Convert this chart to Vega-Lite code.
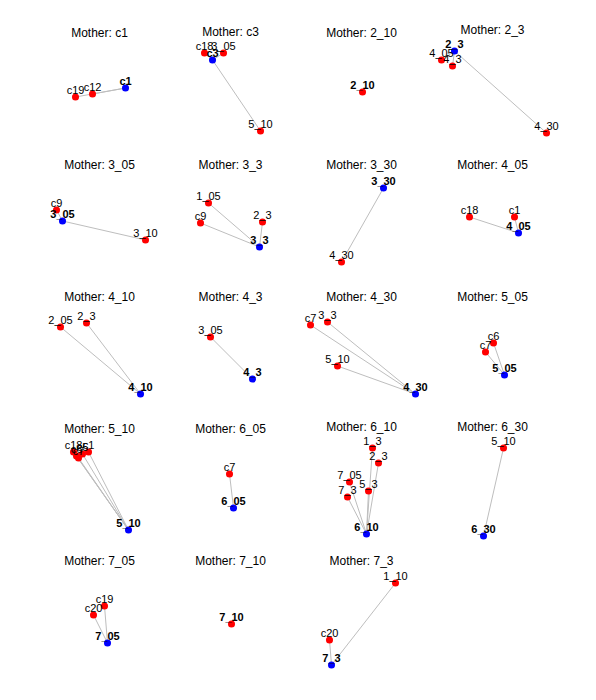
{
  "$schema": "https://vega.github.io/schema/vega-lite/v6.json",
  "padding": {"left": 44, "top": 24, "right": 0, "bottom": 0},
  "background": "white",
  "bounds": "flush",
  "data": {
    "values": [
      {"panel": "c1", "name": "c19", "role": "child", "x": -24, "y": 63},
      {"panel": "c1", "name": "c12", "role": "child", "x": -7, "y": 60},
      {"panel": "c1", "name": "c1", "role": "mother", "x": 26, "y": 54},
      {"panel": "c3", "name": "c18", "role": "child", "x": -26, "y": 19},
      {"panel": "c3", "name": "3_05", "role": "child", "x": -7, "y": 19},
      {"panel": "c3", "name": "5_10", "role": "child", "x": 30, "y": 97},
      {"panel": "c3", "name": "c3", "role": "mother", "x": -18, "y": 26},
      {"panel": "2_10", "name": "2_10", "role": "alone", "x": 1, "y": 58},
      {"panel": "2_3", "name": "4_05", "role": "child", "x": -51, "y": 26},
      {"panel": "2_3", "name": "4_3", "role": "child", "x": -40, "y": 32},
      {"panel": "2_3", "name": "4_30", "role": "child", "x": 54, "y": 99},
      {"panel": "2_3", "name": "2_3", "role": "mother", "x": -38, "y": 17},
      {"panel": "3_05", "name": "c9", "role": "child", "x": -43, "y": 44},
      {"panel": "3_05", "name": "3_10", "role": "child", "x": 46, "y": 74},
      {"panel": "3_05", "name": "3_05", "role": "mother", "x": -37, "y": 55},
      {"panel": "3_3", "name": "1_05", "role": "child", "x": -22, "y": 37},
      {"panel": "3_3", "name": "c9", "role": "child", "x": -30, "y": 57},
      {"panel": "3_3", "name": "2_3", "role": "child", "x": 32, "y": 56},
      {"panel": "3_3", "name": "3_3", "role": "mother", "x": 29, "y": 81},
      {"panel": "3_30", "name": "4_30", "role": "child", "x": -20, "y": 96},
      {"panel": "3_30", "name": "3_30", "role": "mother", "x": 22, "y": 22},
      {"panel": "4_05", "name": "c18", "role": "child", "x": -23, "y": 51},
      {"panel": "4_05", "name": "c1", "role": "child", "x": 22, "y": 51},
      {"panel": "4_05", "name": "4_05", "role": "mother", "x": 26, "y": 67},
      {"panel": "4_10", "name": "2_05", "role": "child", "x": -39, "y": 29},
      {"panel": "4_10", "name": "2_3", "role": "child", "x": -13, "y": 25},
      {"panel": "4_10", "name": "4_10", "role": "mother", "x": 41, "y": 96},
      {"panel": "4_3", "name": "3_05", "role": "child", "x": -20, "y": 39},
      {"panel": "4_3", "name": "4_3", "role": "mother", "x": 22, "y": 81},
      {"panel": "4_30", "name": "c7", "role": "child", "x": -51, "y": 27},
      {"panel": "4_30", "name": "3_3", "role": "child", "x": -34, "y": 24},
      {"panel": "4_30", "name": "5_10", "role": "child", "x": -24, "y": 68},
      {"panel": "4_30", "name": "4_30", "role": "mother", "x": 54, "y": 96},
      {"panel": "5_05", "name": "c6", "role": "child", "x": 1, "y": 45},
      {"panel": "5_05", "name": "c7", "role": "child", "x": -7, "y": 54},
      {"panel": "5_05", "name": "5_05", "role": "mother", "x": 12, "y": 77},
      {"panel": "5_10", "name": "c18", "role": "child", "x": -26, "y": 22},
      {"panel": "5_10", "name": "c6", "role": "child", "x": -23, "y": 26},
      {"panel": "5_10", "name": "c7", "role": "child", "x": -21, "y": 28},
      {"panel": "5_10", "name": "c5", "role": "child", "x": -17, "y": 24},
      {"panel": "5_10", "name": "c1", "role": "child", "x": -11, "y": 22},
      {"panel": "5_10", "name": "5_10", "role": "mother", "x": 29, "y": 100},
      {"panel": "6_05", "name": "c7", "role": "child", "x": -1, "y": 44},
      {"panel": "6_05", "name": "6_05", "role": "mother", "x": 3, "y": 78},
      {"panel": "6_10", "name": "1_3", "role": "child", "x": 11, "y": 18},
      {"panel": "6_10", "name": "2_3", "role": "child", "x": 17, "y": 33},
      {"panel": "6_10", "name": "7_05", "role": "child", "x": -12, "y": 52},
      {"panel": "6_10", "name": "5_3", "role": "child", "x": 7, "y": 61},
      {"panel": "6_10", "name": "7_3", "role": "child", "x": -14, "y": 67},
      {"panel": "6_10", "name": "6_10", "role": "mother", "x": 5, "y": 104},
      {"panel": "6_30", "name": "5_10", "role": "child", "x": 11, "y": 18},
      {"panel": "6_30", "name": "6_30", "role": "mother", "x": -9, "y": 106},
      {"panel": "7_05", "name": "c19", "role": "child", "x": 5, "y": 44},
      {"panel": "7_05", "name": "c20", "role": "child", "x": -6, "y": 53},
      {"panel": "7_05", "name": "7_05", "role": "mother", "x": 8, "y": 81},
      {"panel": "7_10", "name": "7_10", "role": "alone", "x": 1, "y": 62},
      {"panel": "7_3", "name": "1_10", "role": "child", "x": 34, "y": 21},
      {"panel": "7_3", "name": "c20", "role": "child", "x": -32, "y": 78},
      {"panel": "7_3", "name": "7_3", "role": "mother", "x": -30, "y": 103}
    ]
  },
  "transform": [
    {"joinaggregate": [{"op": "argmax", "field": "role", "as": "mom"}], "groupby": ["panel"]}
  ],
  "facet": {
    "field": "panel",
    "type": "nominal",
    "sort": ["c1", "c3", "2_10", "2_3", "3_05", "3_3", "3_30", "4_05", "4_10", "4_3", "4_30", "5_05", "5_10", "6_05", "6_10", "6_30", "7_05", "7_10", "7_3"],
    "header": {
      "title": null,
      "labelExpr": "'Mother: ' + datum.value",
      "labelFont": "Liberation Sans",
      "labelFontSize": 12,
      "labelColor": "black",
      "labelPadding": 2
    }
  },
  "columns": 4,
  "spacing": {"column": 20, "row": 25},
  "spec": {
    "width": 111,
    "height": 107,
    "encoding": {
      "x": {"field": "x", "type": "quantitative", "axis": null, "scale": {"domain": [-55.5, 55.5], "nice": false, "zero": false}},
      "y": {"field": "y", "type": "quantitative", "axis": null, "scale": {"domain": [8, 115], "nice": false, "zero": false, "reverse": true}}
    },
    "layer": [
      {
        "transform": [{"filter": "datum.role == 'child'"}],
        "mark": {"type": "rule", "color": "#bebebe", "strokeWidth": 1},
        "encoding": {
          "x2": {"field": "mom.x"},
          "y2": {"field": "mom.y"}
        }
      },
      {
        "mark": {"type": "circle", "size": 50, "opacity": 1},
        "encoding": {
          "color": {
            "field": "role",
            "type": "nominal",
            "scale": {"domain": ["mother", "child", "alone"], "range": ["#0000ff", "#ff0000", "#ff0000"]},
            "legend": null
          }
        }
      },
      {
        "transform": [{"filter": "datum.role == 'child'"}],
        "mark": {"type": "text", "font": "Liberation Sans", "fontSize": 11, "dy": -6, "color": "black"},
        "encoding": {"text": {"field": "name"}}
      },
      {
        "transform": [{"filter": "datum.role != 'child'"}],
        "mark": {"type": "text", "font": "Liberation Sans", "fontSize": 11, "fontWeight": "bold", "dy": -6, "color": "black"},
        "encoding": {"text": {"field": "name"}}
      }
    ]
  },
  "config": {"view": {"stroke": null}}
}
